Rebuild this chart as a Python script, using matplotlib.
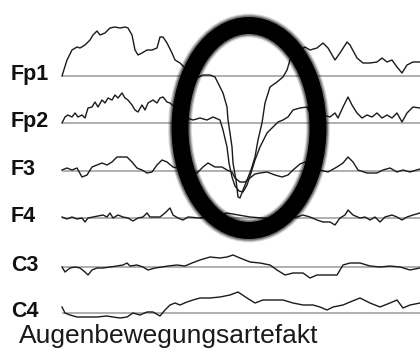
import matplotlib
matplotlib.use("Agg")
import matplotlib.pyplot as plt
from matplotlib.patches import Ellipse

# ---- data (time in px-like sample units, deflection positive = up) ----
channels = ["Fp1", "Fp2", "F3", "F4", "C3", "C4"]

fp1_t = [62, 67, 72, 77, 80, 85, 90, 93, 97, 100, 105, 110, 115, 120, 125, 128, 132, 135, 138, 142,
         147, 152, 157, 160, 163, 167, 172, 175, 180, 187, 193, 197, 203, 210, 215, 218, 223, 227, 228,
         230, 232, 233, 236, 238, 240, 243, 247, 251, 255, 258, 262, 265, 270, 277, 283, 287, 290, 293,
         300, 305, 310, 317, 323, 328, 335, 340, 347, 350, 357, 363, 370, 377, 382, 387, 392, 397, 402,
         407, 413, 420]
fp1_v = [0, 16, 26, 29, 28, 31, 36, 41, 45, 41, 43, 48, 49, 48, 49, 48, 41, 26, 21, 23,
         26, 26, 28, 39, 39, 33, 23, 16, 13, 6, 0, -2, 1, 1, -1, -7, -17, -31, -44,
         -57, -71, -87, -104, -121, -122, -114, -104, -94, -81, -64, -47, -27, -11, -6, -1, 6, 16, 23,
         26, 29, 26, 28, 33, 28, 16, 23, 34, 31, 18, 13, 13, 14, 18, 14, 16, 9, 3,
         11, 14, 14]

fp2_t = [62, 65, 68, 72, 75, 78, 82, 85, 88, 92, 95, 98, 102, 105, 108, 112, 115, 118, 122, 125,
         128, 132, 135, 138, 142, 145, 148, 153, 157, 160, 163, 167, 170, 180, 187, 193, 200, 207, 213,
         220, 223, 227, 229, 232, 235, 239, 243, 247, 251, 255, 260, 267, 273, 278, 283, 288, 293, 300,
         307, 310, 317, 323, 330, 335, 338, 343, 348, 352, 357, 362, 367, 372, 377, 382, 387, 392, 397,
         402, 407, 413, 420]
fp2_v = [0, 6, 8, 6, 10, 6, 8, 5, 15, 16, 21, 16, 23, 20, 25, 23, 28, 25, 30, 25,
         23, 18, 13, 11, 18, 13, 20, 23, 20, 25, 26, 21, 20, 11, 5, 3, 5, 3, 6,
         3, -7, -24, -40, -54, -63, -68, -69, -62, -50, -37, -24, -10, -4, 1, 3, 6, 13, 15,
         16, 10, 13, 8, 6, 10, 5, 16, 26, 18, 10, 5, 8, 6, 10, 5, 8, 5, 10,
         1, 10, 16, 15]

f3_t = [62, 67, 72, 77, 82, 87, 92, 97, 102, 107, 112, 117, 122, 127, 132, 137, 142, 147, 152, 157,
        162, 167, 173, 185, 197, 203, 208, 215, 222, 227, 232, 235, 240, 245, 250, 255, 260, 267, 275,
        282, 288, 293, 300, 305, 310, 320, 328, 337, 343, 348, 353, 358, 367, 377, 383, 390, 397, 403,
        410, 420]
f3_v = [1, 3, 1, 3, -6, -4, 4, 6, 8, 6, 9, 14, 14, 14, 9, 3, 1, -2, -1, 6,
        11, 9, 4, 1, -2, 4, 8, 4, 4, 1, -1, -7, -11, -11, -7, -3, -2, -1, -4,
        -6, -4, 1, 7, 9, 4, 1, -1, 4, 8, 14, 9, 1, -2, -2, 1, 3, -1, 1,
        -1, 2]

f4_t = [62, 67, 72, 77, 82, 85, 88, 93, 98, 103, 107, 110, 113, 118, 123, 128, 133, 138, 143, 147,
        150, 155, 160, 165, 170, 173, 178, 183, 188, 200, 215, 227, 250, 275, 297, 303, 310, 317, 323,
        330, 335, 340, 345, 348, 353, 360, 365, 370, 375, 380, 385, 392, 397, 402, 407, 413, 420]
f4_v = [1, -1, 1, -1, 0, -4, 0, 1, 2, 3, 1, 5, 0, 3, 1, 0, -3, 0, 1, 5,
        1, 1, 1, 5, 10, 3, 0, -2, 1, 0, 2, 5, 1, -1, 1, 3, 1, -2, -4,
        -4, -7, 0, 3, 8, 3, 0, 1, -2, 1, -4, 1, 3, 1, -2, 1, 3, 5]

c3_t = [62, 65, 70, 75, 80, 85, 88, 92, 97, 103, 110, 117, 123, 127, 130, 137, 143, 148, 155, 162,
        168, 177, 185, 192, 200, 210, 220, 227, 233, 240, 250, 260, 270, 277, 285, 293, 303, 310, 317,
        327, 337, 343, 350, 360, 370, 380, 390, 400, 410, 420]
c3_v = [0, -5, -1, 0, -1, -5, -8, -3, -1, -1, 0, 1, 2, 4, 1, 2, 0, -3, -1, 0,
        1, 2, 1, 4, 7, 10, 9, 10, 12, 9, 5, 4, 2, -3, -8, -6, -6, -11, -8,
        -8, -8, 2, 4, 4, 1, 0, 1, 0, -3, -1]

c4_t = [62, 65, 70, 77, 87, 97, 107, 113, 120, 127, 133, 140, 147, 153, 160, 165, 170, 175, 180, 187,
        193, 200, 210, 220, 230, 238, 247, 255, 263, 273, 283, 293, 303, 313, 320, 327, 333, 343, 350,
        360, 370, 380, 390, 397, 403, 410, 420]
c4_v = [6, 0, -2, -4, -4, -4, -3, -4, -5, -4, 0, -2, 1, 1, -3, 3, 8, 10, 8, 11,
        13, 15, 15, 16, 18, 21, 15, 10, 13, 13, 13, 10, 8, 8, 6, 3, 6, 8, 11,
        15, 10, 6, 10, 13, 5, 8, 10]

series_t = [fp1_t, fp2_t, f3_t, f4_t, c3_t, c4_t]
series_v = [fp1_v, fp2_v, f3_v, f4_v, c3_v, c4_v]
title = "Augenbewegungsartefakt"

# ---- layout ----
W, H = 420, 356
baselines = [76, 123, 171, 218, 267, 313]
x0, x1 = 62, 420

fig = plt.figure(figsize=(W / 100, H / 100), dpi=100)
ax = fig.add_axes([0, 0, 1, 1])
ax.set_xlim(0, W)
ax.set_ylim(H, 0)
ax.axis("off")
fig.patch.set_facecolor("white")

for name, base, t, v in zip(channels, baselines, series_t, series_v):
    ax.plot([x0, x1], [base, base], color="#9a9a9a", lw=1.1, zorder=1, solid_capstyle="butt")
    ax.plot(t, [base - val for val in v], color="#1a1a1a", lw=1.0, zorder=2)
    ax.text(11, base + 4, name, fontsize=15.5, fontweight="bold", family="Liberation Sans",
            color="#111111", ha="left", va="baseline")

# blurred ellipse marker
cx, cy, ew, eh = 249, 128, 138, 205
for lw_px, a in [(24, 0.12), (22, 0.2), (20, 0.35), (17, 1.0)]:
    ax.add_patch(Ellipse((cx, cy), ew, eh, fill=False, edgecolor="black",
                         lw=lw_px * 0.72, alpha=a, zorder=5))

ax.text(19, 343, title, fontsize=19, family="Liberation Sans", color="#1a1a1a",
        ha="left", va="baseline")

fig.savefig("out.png", dpi=100, facecolor="white")
